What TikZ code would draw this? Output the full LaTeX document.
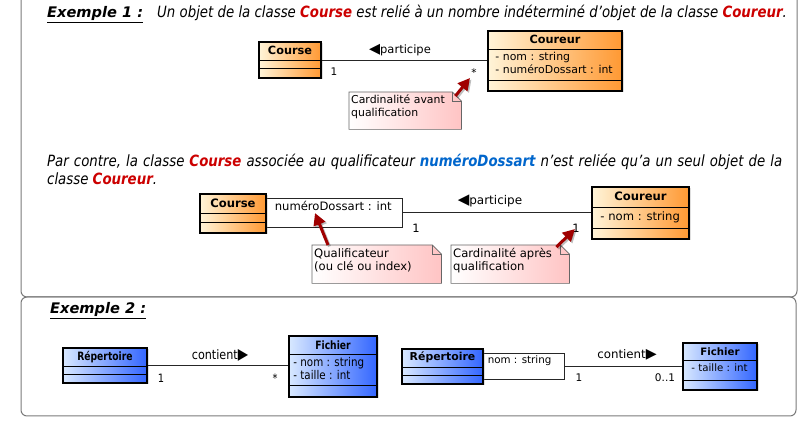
\documentclass[tikz,border=0pt]{standalone}
\usepackage{fontspec}
\setmainfont{DejaVu Sans}
\newfontfamily\condfont{DejaVu Sans}[FakeStretch=0.86]
\newfontfamily\narrowfont{DejaVu Sans}[FakeStretch=0.8]
\usetikzlibrary{arrows.meta,positioning,shadows}

\definecolor{coursered}{HTML}{CC0000}
\definecolor{qualblue}{HTML}{0066CC}
\definecolor{orangelight}{HTML}{FFF4D8}
\definecolor{orangedark}{HTML}{FF9933}
\definecolor{bluelight}{HTML}{D8E8FF}
\definecolor{bluedark}{HTML}{3366FF}
\definecolor{notepink}{HTML}{FFC4C4}
\definecolor{framegray}{HTML}{7A7A7A}
\definecolor{arrowred}{HTML}{A00000}

\tikzset{
  frame/.style={draw=framegray, line width=1pt, rounded corners=6pt},
  orangeclass/.style={draw=black, line width=1.5pt, left color=orangelight, right color=orangedark,
    inner sep=0pt, drop shadow={opacity=0.25, shadow xshift=1.5pt, shadow yshift=-1.5pt}},
  blueclass/.style={draw=black, line width=1.5pt, left color=bluelight, right color=bluedark,
    inner sep=0pt, drop shadow={opacity=0.25, shadow xshift=1.5pt, shadow yshift=-1.5pt}},
  classname/.style={font=\bfseries\fontsize{11.3}{13}\selectfont, inner sep=0pt},
  attr/.style={font=\fontsize{10.9}{13}\selectfont, align=left, anchor=north west, inner sep=0pt},
  compart/.style={line width=0.9pt},
  qualbox/.style={draw=black!85, fill=white, line width=0.8pt, inner sep=0pt},
  assoc/.style={draw=black!85, line width=0.8pt},
  mult/.style={font=\fontsize{10.5}{12}\selectfont, inner sep=0pt},
  assoclabel/.style={font=\fontsize{11.5}{13}\selectfont, inner sep=0pt},
  notebox/.style={inner sep=0pt, anchor=north west},
  notetext/.style={font=\fontsize{10.9}{13}\selectfont, align=left, anchor=north west, inner sep=0pt},
  notefill/.style={draw=black!60, line width=0.7pt, left color=white, right color=notepink},
  notearrow/.style={arrowred, line width=3pt, -{Triangle[length=12pt,width=12pt]}},
  arrowshadow/.style={black, opacity=0.25, line width=3pt, -{Triangle[length=12pt,width=12pt]}},
  para/.style={font=\condfont\itshape\fontsize{15.5}{18}\selectfont, anchor=base west, inner sep=0pt},
  exemple/.style={font=\bfseries\itshape\fontsize{14.6}{17}\selectfont, anchor=base west, inner sep=0pt},
}

\begin{document}
\begin{tikzpicture}[x=1pt,y=-1pt]
\useasboundingbox (0,0) rectangle (804,443);
\fill[white] (0,0) rectangle (804,443);

% cadres
\draw[frame] (21,-10) rectangle (797,297);
\draw[frame] (21,297) rectangle (796,416);

% Exemple 1
\node[exemple] (titre1) at (47,18) {\underline{Exemple 1 :}};
\node[para] (intro1) at (157,18) {Un objet de la classe \textcolor{coursered}{\bfseries Course} est relié à un nombre indéterminé d’objet de la classe \textcolor{coursered}{\bfseries Coureur}.};

\node[orangeclass, minimum width=62pt, minimum height=36pt] (course1) at (290,60) {};
\node[classname] (course1name) at ([yshift=-9.5pt]course1.north) {Course};
\draw[compart] ([yshift=-19pt]course1.north west) -- ([yshift=-19pt]course1.north east);
\draw[compart] ([yshift=-27pt]course1.north west) -- ([yshift=-27pt]course1.north east);

\node[orangeclass, minimum width=134pt, minimum height=60pt] (coureur1) at (555,61) {};
\node[classname] (coureur1name) at ([yshift=-9.5pt]coureur1.north) {Coureur};
\draw[compart] ([yshift=-19pt]coureur1.north west) -- ([yshift=-19pt]coureur1.north east);
\draw[compart] ([yshift=-50pt]coureur1.north west) -- ([yshift=-50pt]coureur1.north east);
\node[attr] (coureur1attr) at ([xshift=8pt,yshift=-22pt]coureur1.north west) {- nom : string\\- numéroDossart : int};

\draw[assoc] (course1.east) -- (course1.east -| coureur1.west);
\node[assoclabel] (participe1) at (400,50) {\scalebox{1.25}{◀}participe};
\node[mult] (m1a) at (334,72) {1};
\node[mult] (m1b) at (474,73) {*};

\node[notebox, minimum width=112pt, minimum height=37pt] (note1) at (349,92) {};
\path[notefill] (note1.south west) -- (note1.north west) -- ([xshift=-9pt]note1.north east)
  -- ([yshift=-9pt]note1.north east) -- (note1.south east) -- cycle;
\draw[black!60, line width=0.7pt] ([xshift=-9pt]note1.north east) |- ([yshift=-9pt]note1.north east);
\node[notetext] (note1text) at ([xshift=2pt,yshift=-3pt]note1.north west) {Cardinalité avant\\qualification};
\coordinate (tip1) at (470,78);
\draw[arrowshadow] ([xshift=-4.5pt,yshift=-5.5pt]note1.north east) -- ([xshift=1.5pt,yshift=-1.5pt]tip1);
\draw[notearrow] ([xshift=-6pt,yshift=-4pt]note1.north east) -- (tip1);

% Par contre
\node[para] (intro2) at (47,167) {\makebox[735pt][s]{Par contre, la classe \textcolor{coursered}{\bfseries Course} associée au qualificateur \textcolor{qualblue}{\bfseries numéroDossart} n’est reliée qu’a un seul objet de la}};
\node[para] (intro2b) at (47,185) {classe \textcolor{coursered}{\bfseries Coureur}.};

\node[qualbox, minimum width=136pt, minimum height=29pt] (qual2) at (334,212.5) {};
\node[attr, font=\fontsize{11.6}{13}\selectfont] (qual2text) at ([xshift=9pt,yshift=-3pt]qual2.north west) {numéroDossart : int};

\node[orangeclass, minimum width=66pt, minimum height=39pt] (course2) at (233,213.5) {};
\node[classname, font=\bfseries\fontsize{11.6}{13}\selectfont] (course2name) at ([yshift=-10pt]course2.north) {Course};
\draw[compart] ([yshift=-20pt]course2.north west) -- ([yshift=-20pt]course2.north east);
\draw[compart] ([yshift=-29pt]course2.north west) -- ([yshift=-29pt]course2.north east);

\node[orangeclass, minimum width=97pt, minimum height=52pt] (coureur2) at (640.5,213) {};
\node[classname, font=\bfseries\fontsize{11.6}{13}\selectfont] (coureur2name) at ([yshift=-10.5pt]coureur2.north) {Coureur};
\draw[compart] ([yshift=-21pt]coureur2.north west) -- ([yshift=-21pt]coureur2.north east);
\draw[compart] ([yshift=-42pt]coureur2.north west) -- ([yshift=-42pt]coureur2.north east);
\node[attr, font=\fontsize{11.6}{13}\selectfont] (coureur2attr) at ([xshift=9pt,yshift=-25pt]coureur2.north west) {- nom : string};

\draw[assoc] (qual2.east) -- (qual2.east -| coureur2.west);
\node[assoclabel, font=\fontsize{12}{14}\selectfont] (participe2) at (490,201) {\scalebox{1.25}{◀}participe};
\node[mult, font=\fontsize{11.5}{13}\selectfont] (m2a) at (416,228) {1};
\node[mult, font=\fontsize{11.5}{13}\selectfont] (m2b) at (576,228) {1};

\node[notebox, minimum width=129pt, minimum height=38pt] (note2) at (312,245) {};
\path[notefill] (note2.south west) -- (note2.north west) -- ([xshift=-9pt]note2.north east)
  -- ([yshift=-9pt]note2.north east) -- (note2.south east) -- cycle;
\draw[black!60, line width=0.7pt] ([xshift=-9pt]note2.north east) |- ([yshift=-9pt]note2.north east);
\node[notetext, font=\fontsize{11.6}{13}\selectfont] (note2text) at ([xshift=2pt,yshift=-3pt]note2.north west) {Qualificateur\\(ou clé ou index)};
\coordinate (tip2) at (315,213);
\draw[arrowshadow] ([xshift=17.5pt,yshift=-1.5pt]note2.north west) -- ([xshift=1.5pt,yshift=-1.5pt]tip2);
\draw[notearrow] ([xshift=16pt]note2.north west) -- (tip2);

\node[notebox, minimum width=118pt, minimum height=38pt] (note3) at (451,245) {};
\path[notefill] (note3.south west) -- (note3.north west) -- ([xshift=-9pt]note3.north east)
  -- ([yshift=-9pt]note3.north east) -- (note3.south east) -- cycle;
\draw[black!60, line width=0.7pt] ([xshift=-9pt]note3.north east) |- ([yshift=-9pt]note3.north east);
\node[notetext, font=\fontsize{11.6}{13}\selectfont] (note3text) at ([xshift=2pt,yshift=-3pt]note3.north west) {Cardinalité après\\qualification};
\coordinate (tip3) at (575,229);
\draw[arrowshadow] ([xshift=-11.5pt,yshift=-3.5pt]note3.north east) -- ([xshift=1.5pt,yshift=-1.5pt]tip3);
\draw[notearrow] ([xshift=-13pt,yshift=-2pt]note3.north east) -- (tip3);

% Exemple 2
\node[exemple] (titre2) at (50,314) {\underline{Exemple 2 :}};

\node[blueclass, minimum width=84pt, minimum height=35pt] (rep3) at (105,365.5) {};
\node[classname, font=\narrowfont\bfseries\fontsize{11.5}{13}\selectfont] (rep3name) at ([yshift=-9.5pt]rep3.north) {Répertoire};
\draw[compart] ([yshift=-19pt]rep3.north west) -- ([yshift=-19pt]rep3.north east);
\draw[compart] ([yshift=-27pt]rep3.north west) -- ([yshift=-27pt]rep3.north east);

\node[blueclass, minimum width=88pt, minimum height=61pt] (fich3) at (333,366.5) {};
\node[classname, font=\narrowfont\bfseries\fontsize{11.5}{13}\selectfont] (fich3name) at ([yshift=-9.5pt]fich3.north) {Fichier};
\draw[compart] ([yshift=-19pt]fich3.north west) -- ([yshift=-19pt]fich3.north east);
\draw[compart] ([yshift=-50pt]fich3.north west) -- ([yshift=-50pt]fich3.north east);
\node[attr, font=\condfont\fontsize{12}{13}\selectfont] (fich3attr) at ([xshift=5pt,yshift=-22pt]fich3.north west) {- nom : string\\- taille : int};

\draw[assoc] (rep3.east) -- (rep3.east -| fich3.west);
\node[assoclabel, font=\condfont\fontsize{13}{15}\selectfont] (contient3) at (220,355) {contient\scalebox{1.2}{▶}};
\node[mult, font=\condfont\fontsize{11.5}{13}\selectfont] (m3a) at (161,378) {1};
\node[mult, font=\condfont\fontsize{11.5}{13}\selectfont] (m3b) at (275,378) {*};

\node[qualbox, minimum width=81pt, minimum height=26pt] (qual4) at (523.5,366) {};
\node[attr, font=\fontsize{10.3}{12}\selectfont] (qual4text) at ([xshift=5pt,yshift=-3pt]qual4.north west) {nom : string};

\node[blueclass, minimum width=81pt, minimum height=35pt] (rep4) at (442.5,366.5) {};
\node[classname, font=\bfseries\fontsize{10.9}{13}\selectfont] (rep4name) at ([yshift=-9.5pt]rep4.north) {Répertoire};
\draw[compart] ([yshift=-19pt]rep4.north west) -- ([yshift=-19pt]rep4.north east);
\draw[compart] ([yshift=-27pt]rep4.north west) -- ([yshift=-27pt]rep4.north east);

\node[blueclass, minimum width=74pt, minimum height=47pt] (fich4) at (720,366.5) {};
\node[classname, font=\bfseries\fontsize{10.2}{12}\selectfont] (fich4name) at ([yshift=-9pt]fich4.north) {Fichier};
\draw[compart] ([yshift=-18pt]fich4.north west) -- ([yshift=-18pt]fich4.north east);
\draw[compart] ([yshift=-38pt]fich4.north west) -- ([yshift=-38pt]fich4.north east);
\node[attr, font=\fontsize{10.2}{12}\selectfont] (fich4attr) at ([xshift=9pt,yshift=-21pt]fich4.north west) {- taille : int};

\draw[assoc] (qual4.east) -- (qual4.east -| fich4.west);
\node[assoclabel, font=\fontsize{11.8}{14}\selectfont] (contient4) at (627,355) {contient\scalebox{1.2}{▶}};
\node[mult, font=\fontsize{10.5}{12}\selectfont] (m4a) at (579,378) {1};
\node[mult, font=\fontsize{10.5}{12}\selectfont] (m4b) at (665,378) {0..1};
\end{tikzpicture}
\end{document}
